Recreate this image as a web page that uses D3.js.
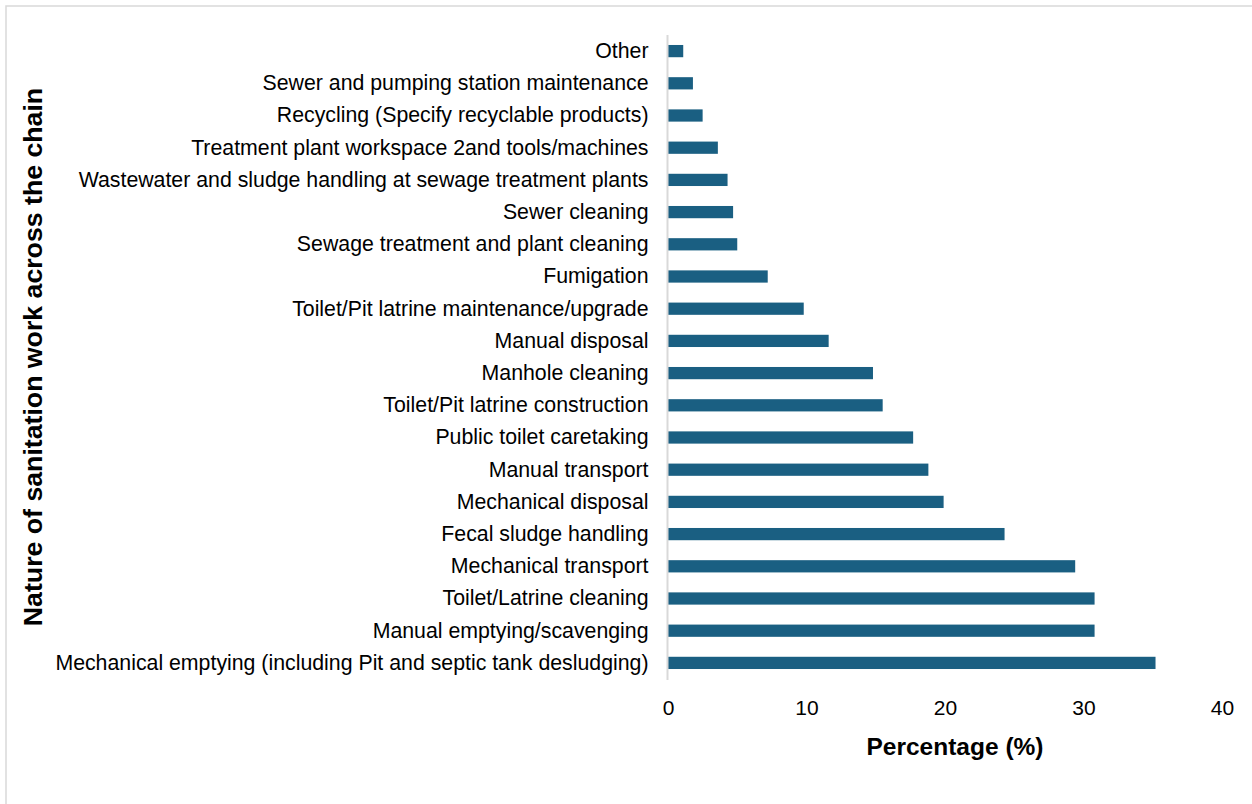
<!DOCTYPE html>
<html>
<head>
<meta charset="utf-8">
<script src="https://cdn.jsdelivr.net/npm/d3@7"></script>
<style>
  html, body { margin: 0; padding: 0; background: #fff; }
  svg { display: block; }
  text { font-family: "Liberation Sans", Arial, sans-serif; fill: #000; }
</style>
</head>
<body>
<svg id="chart" width="1252" height="804"></svg>
<script>
// Share of respondents by nature of sanitation work (top to bottom)
const categories = [
  "Other",
  "Sewer and pumping station maintenance",
  "Recycling (Specify recyclable products)",
  "Treatment plant workspace 2and tools/machines",
  "Wastewater and sludge handling at sewage treatment plants",
  "Sewer cleaning",
  "Sewage treatment and plant cleaning",
  "Fumigation",
  "Toilet/Pit latrine maintenance/upgrade",
  "Manual disposal",
  "Manhole cleaning",
  "Toilet/Pit latrine construction",
  "Public toilet caretaking",
  "Manual transport",
  "Mechanical disposal",
  "Fecal sludge handling",
  "Mechanical transport",
  "Toilet/Latrine cleaning",
  "Manual emptying/scavenging",
  "Mechanical emptying (including Pit and septic tank desludging)"
];
const percentages = [
  1.1, 1.8, 2.5, 3.6, 4.3, 4.7, 5.0, 7.2, 9.8, 11.6,
  14.8, 15.5, 17.7, 18.8, 19.9, 24.3, 29.4, 30.8, 30.8, 35.2
];
const xTicks = [0, 10, 20, 30, 40];
const xTitle = "Percentage (%)";
const yTitle = "Nature of sanitation work across the chain";

const svg = d3.select("#chart");

// outer frame
svg.append("rect")
  .attr("x", 6).attr("y", 6)
  .attr("width", 1300).attr("height", 900)
  .attr("fill", "none")
  .attr("stroke", "#d9d9d9")
  .attr("stroke-width", 1.5);

const plot = { left: 668, right: 1222, top: 35, bottom: 679 };

const x = d3.scaleLinear().domain([0, 40]).range([plot.left, plot.right]);
const y = d3.scaleBand().domain(categories).range([plot.top, plot.bottom]).paddingInner(0.62).paddingOuter(0.31);

// bars
svg.append("g").selectAll("rect")
  .data(categories)
  .join("rect")
  .attr("x", x(0))
  .attr("y", d => y(d))
  .attr("width", (d, i) => x(percentages[i]) - x(0))
  .attr("height", y.bandwidth())
  .attr("fill", "#1a5f82");

// category axis
const yAxis = svg.append("g")
  .attr("transform", `translate(${plot.left - 0.5},0)`)
  .call(d3.axisLeft(y).tickSize(0).tickPadding(19));
yAxis.select(".domain")
  .attr("stroke", "#d9d9d9")
  .attr("stroke-width", 2)
  .attr("d", `M0,${plot.top}V${plot.bottom + 1}`);
yAxis.selectAll("text")
  .attr("font-size", 21.3)
  .attr("font-family", "'Liberation Sans', Arial, sans-serif")
  .attr("fill", "#000");

// value axis (labels only)
const xAxis = svg.append("g")
  .attr("transform", `translate(0,${plot.bottom})`)
  .call(d3.axisBottom(x).tickValues(xTicks).tickFormat(d3.format("d")).tickSize(0).tickPadding(21));
xAxis.select(".domain").remove();
xAxis.selectAll("text")
  .attr("font-size", 21)
  .attr("font-family", "'Liberation Sans', Arial, sans-serif")
  .attr("fill", "#000");

// axis titles
svg.append("text")
  .attr("x", (plot.left + plot.right) / 2 + 10)
  .attr("y", 755)
  .attr("text-anchor", "middle")
  .attr("font-size", 24.5)
  .attr("font-weight", "bold")
  .text(xTitle);

svg.append("text")
  .attr("transform", `translate(42,357) rotate(-90)`)
  .attr("text-anchor", "middle")
  .attr("font-size", 26.7)
  .attr("font-weight", "bold")
  .text(yTitle);
</script>
</body>
</html>
